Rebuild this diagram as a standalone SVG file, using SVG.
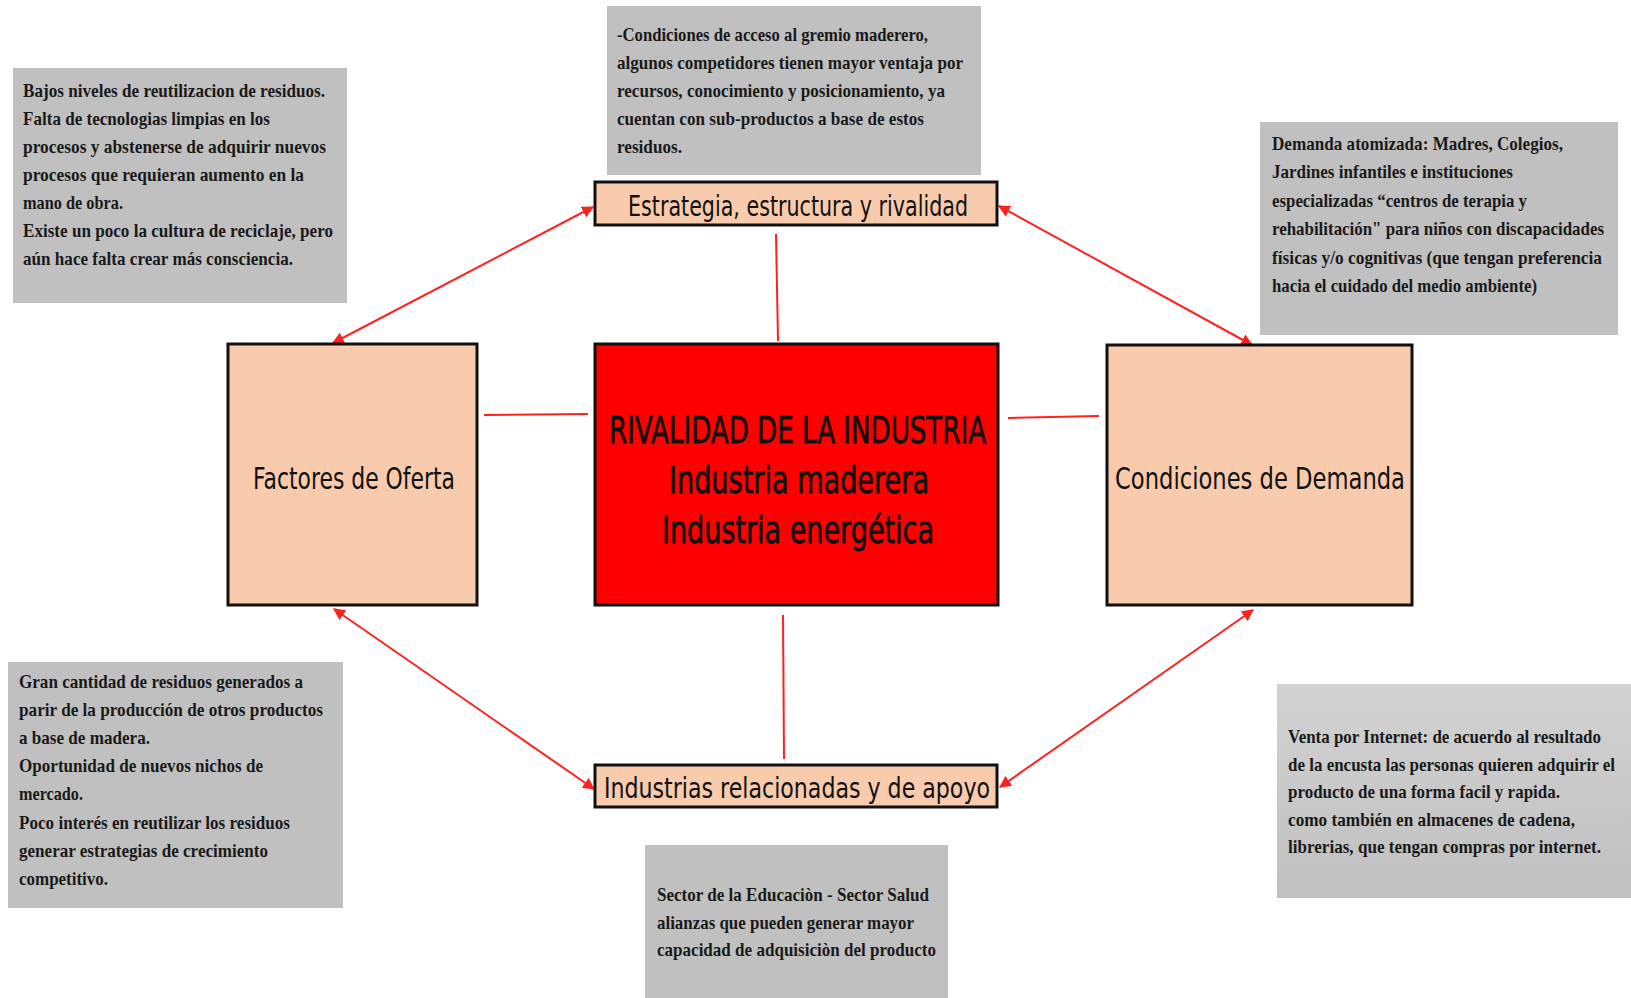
<svg xmlns="http://www.w3.org/2000/svg" width="1631" height="998" viewBox="0 0 1631 998">
<style>
.note{fill:#c0c0c0}
.nt{font-family:"Liberation Serif",serif;font-weight:bold;font-size:19.5px;fill:#1a1a1a}
.box{fill:#f8cbad;stroke:#111;stroke-width:3}
.red{fill:#ff0000;stroke:#111;stroke-width:3}
.lbl{font-family:"DejaVu Sans","Liberation Sans",sans-serif;fill:#111}
.ctr{font-family:"DejaVu Sans","Liberation Sans",sans-serif;fill:#111;stroke:#111;stroke-width:0.8}
.con{stroke:#ff2020;stroke-width:2;fill:none}
</style>
<defs>
<marker id="ah" viewBox="0 0 10 10" refX="9" refY="5" markerWidth="6" markerHeight="6" orient="auto-start-reverse" markerUnits="strokeWidth">
<path d="M0,0 L10,5 L0,10 z" fill="#ff2020"/>
</marker>
<linearGradient id="g1" x1="0" y1="0" x2="0" y2="1">
<stop offset="0" stop-color="#d2d2d2"/>
<stop offset="1" stop-color="#c0c0c0"/>
</linearGradient>
</defs>
<rect width="1631" height="998" fill="#fff"/>

<g id="note-top-left">
<rect class="note" x="13" y="68" width="334" height="235"/>
<text class="nt" x="23" y="97" textLength="302" lengthAdjust="spacingAndGlyphs">Bajos niveles de reutilizacion de residuos.</text>
<text class="nt" x="23" y="125" textLength="247" lengthAdjust="spacingAndGlyphs">Falta de tecnologias limpias en los</text>
<text class="nt" x="23" y="153" textLength="303" lengthAdjust="spacingAndGlyphs">procesos  y abstenerse de adquirir nuevos</text>
<text class="nt" x="23" y="181" textLength="281" lengthAdjust="spacingAndGlyphs">procesos  que requieran aumento en la</text>
<text class="nt" x="23" y="209" textLength="100" lengthAdjust="spacingAndGlyphs">mano de obra.</text>
<text class="nt" x="23" y="237" textLength="310" lengthAdjust="spacingAndGlyphs">Existe un poco la cultura de reciclaje, pero</text>
<text class="nt" x="23" y="265" textLength="270" lengthAdjust="spacingAndGlyphs">aún hace falta crear más consciencia.</text>
</g>

<g id="note-top">
<rect class="note" x="607" y="6" width="374" height="169"/>
<text class="nt" x="617" y="41" textLength="311" lengthAdjust="spacingAndGlyphs">-Condiciones de acceso al gremio maderero,</text>
<text class="nt" x="617" y="69" textLength="346" lengthAdjust="spacingAndGlyphs">algunos competidores tienen mayor ventaja por</text>
<text class="nt" x="617" y="97" textLength="328" lengthAdjust="spacingAndGlyphs">recursos, conocimiento y posicionamiento, ya</text>
<text class="nt" x="617" y="125" textLength="307" lengthAdjust="spacingAndGlyphs">cuentan con sub-productos a base de estos</text>
<text class="nt" x="617" y="153" textLength="65" lengthAdjust="spacingAndGlyphs">residuos.</text>
</g>

<g id="note-top-right">
<rect class="note" x="1260" y="122" width="358" height="213"/>
<text class="nt" x="1272" y="150" textLength="291" lengthAdjust="spacingAndGlyphs">Demanda atomizada: Madres, Colegios,</text>
<text class="nt" x="1272" y="178" textLength="241" lengthAdjust="spacingAndGlyphs">Jardines infantiles e instituciones</text>
<text class="nt" x="1272" y="207" textLength="255" lengthAdjust="spacingAndGlyphs">especializadas “centros de terapia y</text>
<text class="nt" x="1272" y="235" textLength="332" lengthAdjust="spacingAndGlyphs">rehabilitación" para niños con discapacidades</text>
<text class="nt" x="1272" y="264" textLength="330" lengthAdjust="spacingAndGlyphs">físicas y/o cognitivas (que tengan preferencia</text>
<text class="nt" x="1272" y="292" textLength="265" lengthAdjust="spacingAndGlyphs">hacia el cuidado del medio ambiente)</text>
</g>

<g id="note-bottom-left">
<rect class="note" x="8" y="662" width="335" height="246"/>
<text class="nt" x="19" y="688" textLength="284" lengthAdjust="spacingAndGlyphs">Gran cantidad de residuos generados a</text>
<text class="nt" x="19" y="716" textLength="304" lengthAdjust="spacingAndGlyphs">parir de la producción de otros productos</text>
<text class="nt" x="19" y="744" textLength="131" lengthAdjust="spacingAndGlyphs">a base de madera.</text>
<text class="nt" x="19" y="772" textLength="244" lengthAdjust="spacingAndGlyphs">Oportunidad de nuevos nichos de</text>
<text class="nt" x="19" y="800" textLength="64" lengthAdjust="spacingAndGlyphs">mercado.</text>
<text class="nt" x="19" y="829" textLength="271" lengthAdjust="spacingAndGlyphs">Poco interés en reutilizar los residuos</text>
<text class="nt" x="19" y="857" textLength="249" lengthAdjust="spacingAndGlyphs">generar estrategias de crecimiento</text>
<text class="nt" x="19" y="885" textLength="89" lengthAdjust="spacingAndGlyphs">competitivo.</text>
</g>

<g id="note-bottom-right">
<rect x="1277" y="684" width="360" height="214" fill="url(#g1)"/>
<text class="nt" x="1288" y="743" textLength="313" lengthAdjust="spacingAndGlyphs">Venta por Internet: de acuerdo al resultado</text>
<text class="nt" x="1288" y="771" textLength="327" lengthAdjust="spacingAndGlyphs">de la encusta las personas quieren adquirir el</text>
<text class="nt" x="1288" y="798" textLength="272" lengthAdjust="spacingAndGlyphs">producto de una forma facil y rapida.</text>
<text class="nt" x="1288" y="826" textLength="287" lengthAdjust="spacingAndGlyphs">como también en almacenes de cadena,</text>
<text class="nt" x="1288" y="853" textLength="313" lengthAdjust="spacingAndGlyphs">librerias, que tengan compras por internet.</text>
</g>

<g id="note-bottom">
<rect class="note" x="645" y="845" width="303" height="160"/>
<text class="nt" x="657" y="901" textLength="272" lengthAdjust="spacingAndGlyphs">Sector de la Educaciòn - Sector Salud</text>
<text class="nt" x="657" y="929" textLength="257" lengthAdjust="spacingAndGlyphs">alianzas que pueden generar mayor</text>
<text class="nt" x="657" y="956" textLength="279" lengthAdjust="spacingAndGlyphs">capacidad de adquisiciòn del producto</text>
</g>

<g id="connectors">
<line class="con" x1="593" y1="207" x2="333" y2="343" marker-start="url(#ah)" marker-end="url(#ah)"/>
<line class="con" x1="999" y1="206" x2="1252" y2="345" marker-start="url(#ah)" marker-end="url(#ah)"/>
<line class="con" x1="334" y1="609" x2="594" y2="789" marker-start="url(#ah)" marker-end="url(#ah)"/>
<line class="con" x1="1253" y1="610" x2="1000" y2="787" marker-start="url(#ah)" marker-end="url(#ah)"/>
<line class="con" x1="776" y1="234" x2="778" y2="341"/>
<line class="con" x1="484" y1="415" x2="588" y2="414"/>
<line class="con" x1="1008" y1="418" x2="1099" y2="416"/>
<line class="con" x1="783" y1="615" x2="784" y2="759"/>
</g>

<g id="estrategia">
<rect class="box" x="595" y="182" width="402" height="43"/>
<text class="lbl" x="628" y="216" font-size="29" textLength="340" lengthAdjust="spacingAndGlyphs">Estrategia, estructura y rivalidad</text>
</g>

<g id="factores">
<rect class="box" x="228" y="344" width="249" height="261"/>
<text class="lbl" x="253" y="489" font-size="31" textLength="202" lengthAdjust="spacingAndGlyphs">Factores de Oferta</text>
</g>

<g id="rivalidad">
<rect class="red" x="595" y="344" width="403" height="261"/>
<text class="ctr" x="609" y="443" font-size="38" textLength="377" lengthAdjust="spacingAndGlyphs">RIVALIDAD DE LA INDUSTRIA</text>
<text class="ctr" x="669" y="493" font-size="38" textLength="260" lengthAdjust="spacingAndGlyphs">Industria maderera</text>
<text class="ctr" x="662" y="543" font-size="38" textLength="272" lengthAdjust="spacingAndGlyphs">Industria energética</text>
</g>

<g id="condiciones">
<rect class="box" x="1107" y="345" width="305" height="260"/>
<text class="lbl" x="1115" y="489" font-size="31" textLength="290" lengthAdjust="spacingAndGlyphs">Condiciones de Demanda</text>
</g>

<g id="industrias">
<rect class="box" x="595" y="765" width="402" height="42"/>
<text class="lbl" x="604" y="798" font-size="29" textLength="386" lengthAdjust="spacingAndGlyphs">Industrias relacionadas y de apoyo</text>
</g>
</svg>
